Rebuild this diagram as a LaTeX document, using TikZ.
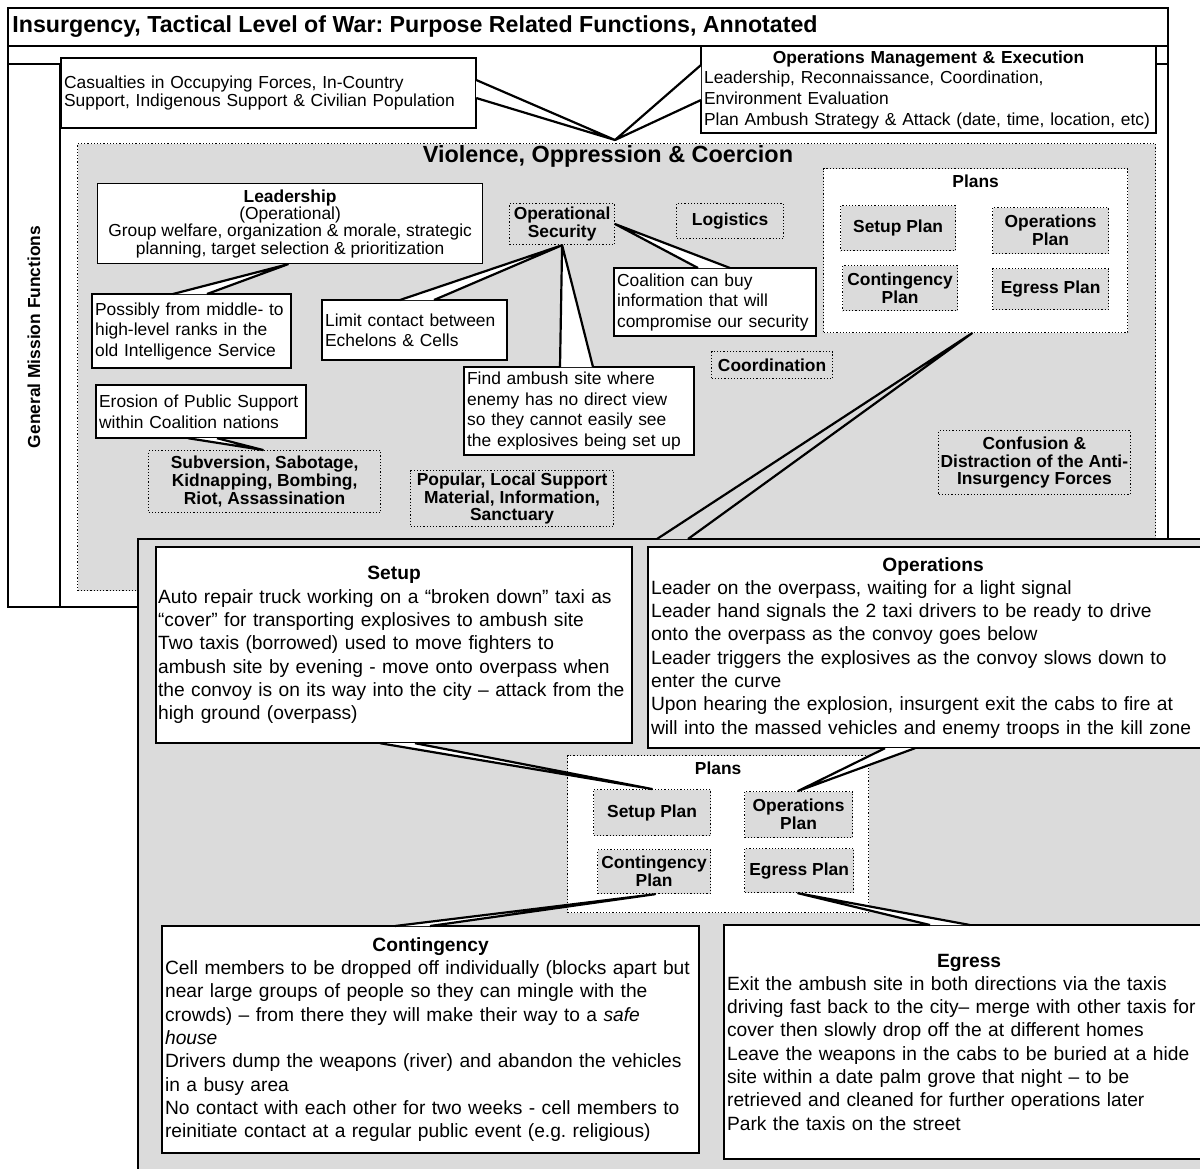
\documentclass[tikz,border=0pt]{standalone}
\usepackage{fontspec}
\setmainfont{Liberation Sans}
\usepackage{tikz}
\usetikzlibrary{positioning,calc}
\definecolor{stip}{gray}{0.86}
\setlength{\parindent}{0pt}
\frenchspacing
\newcommand{\notefont}{\fontsize{8.7}{10.3}\selectfont}
\newcommand{\funcfont}{\bfseries\fontsize{8.7}{8.9}\selectfont}
\newcommand{\detailfont}{\fontsize{9.6}{11.65}\selectfont}

\begin{document}
\begin{tikzpicture}[
  x=0.5pt,y=-0.5pt,
  frame/.style={draw,line width=0.8pt},
  note/.style={draw,fill=white,line width=1.1pt,anchor=north west,align=left,
               inner xsep=1.5pt,inner ysep=1pt,font=\notefont},
  detail/.style={note,font=\detailfont},
  func/.style={draw,densely dotted,fill=stip,line width=0.6pt,anchor=north west,
               align=center,inner sep=1pt,font=\funcfont},
  planbox/.style={draw,densely dotted,fill=white,line width=0.6pt,anchor=north west},
  ptr/.style={draw,fill=white,line width=1.1pt,line join=round}
]
\useasboundingbox (0,0) rectangle (1200,1168);

\draw[frame] (8,8) rectangle (1168,607);
\draw[frame] (8,46) -- (1168,46);
\draw[frame] (8,64) -- (60,64) (1155,64) -- (1168,64);
\draw[frame] (60,64) -- (60,607);
\node[anchor=west,inner sep=0pt,font=\bfseries\fontsize{11.6}{13}\selectfont] (title) at (12,27)
  {Insurgency, Tactical Level of War: Purpose Related Functions, Annotated};
\node[rotate=90,font=\funcfont] (gmf) at (34,337) {General Mission Functions};

\node[draw,densely dotted,fill=stip,line width=0.6pt,anchor=north west,
      minimum width=539pt,minimum height=223.5pt] (vio) at (77,143) {};
\node[font=\bfseries\fontsize{11.7}{13}\selectfont] (viotitle) at (608,156)
  {Violence, Oppression \& Coercion};

\node[note,text width=204.5pt,minimum height=35pt,font=\fontsize{8.7}{9}\selectfont] (cas) at (60,57)
  {Casualties in Occupying Forces, In-Country\\Support, Indigenous Support \& Civilian Population};
\node[note,text width=224.5pt,minimum height=43.5pt] (opsm) at (700,45)
  {{\centering\textbf{Operations Management \& Execution}\par}Leadership, Reconnaissance, Coordination,\\
   Environment Evaluation\\Plan Ambush Strategy \& Attack (date, time, location, etc)};

\node[note,align=center,line width=0.6pt,minimum width=192.5pt,minimum height=40pt,
      font=\fontsize{8.7}{8.7}\selectfont] (lead) at (97,183)
  {\textbf{Leadership}\\(Operational)\\Group welfare, organization \& morale, strategic\\
   planning, target selection \& prioritization};
\node[note,text width=96.5pt,minimum height=37pt] (pos) at (91,293)
  {Possibly from middle- to\\high-level ranks in the\\old Intelligence Service};
\node[note,text width=89.5pt,minimum height=30pt] (limit) at (321,299)
  {Limit contact between\\Echelons \& Cells};
\node[note,text width=98pt,minimum height=34pt] (coal) at (613,267)
  {Coalition can buy\\information that will\\compromise our security};
\node[note,text width=112pt,minimum height=44pt] (find) at (463,366)
  {Find ambush site where\\enemy has no direct view\\so they cannot easily see\\the explosives being set up};
\node[note,text width=102pt,minimum height=26.5pt] (eros) at (95,384)
  {Erosion of Public Support\\within Coalition nations};

\node[func,minimum width=52.5pt,minimum height=20.5pt] (opsec) at (509,203) {Operational\\Security};
\node[func,minimum width=53.5pt,minimum height=17.5pt] (logi) at (676,203) {Logistics};
\node[func,minimum width=60.5pt,minimum height=13.5pt] (coord) at (711,351) {Coordination};
\node[func,minimum width=116pt,minimum height=31pt] (subv) at (148,450)
  {Subversion, Sabotage,\\Kidnapping, Bombing,\\Riot, Assassination};
\node[func,minimum width=101.5pt,minimum height=27.5pt] (popu) at (410,470)
  {Popular, Local Support\\Material, Information,\\Sanctuary};
\node[func,minimum width=93pt,minimum height=32pt] (conf) at (938,430)
  {Confusion \&\\Distraction of the Anti-\\Insurgency Forces};

\node[planbox,minimum width=152pt,minimum height=82pt] (plansA) at (823,168) {};
\node[font=\funcfont,below=0pt of plansA.north] (plansAt) {Plans};
\node[func,minimum width=57.5pt,minimum height=22.5pt] (setupA) at (840,205) {Setup Plan};
\node[func,minimum width=58pt,minimum height=23pt] (opsA) at (992,207) {Operations\\Plan};
\node[func,minimum width=57.5pt,minimum height=22.5pt] (contA) at (842,265) {Contingency\\Plan};
\node[func,minimum width=58pt,minimum height=20.5pt] (egrA) at (992,268) {Egress Plan};

\coordinate (hub) at (615,140);
\path[ptr] ($(cas.north east)+(-1,23)$) -- (hub) -- ($(cas.north east)+(-1,41)$);
\path[ptr] ($(opsm.north west)+(1,20)$) -- (hub) -- ($(opsm.north west)+(1,55)$);
\path[ptr] ($(pos.north west)+(82,1)$) -- ($(lead.south west)+(191,0)$) -- ($(pos.north west)+(116,1)$);
\path[ptr] ($(limit.north west)+(79,1)$) -- (opsec.south) -- ($(limit.north west)+(113,1)$);
\path[ptr] ($(find.north west)+(97,1)$) -- (opsec.south) -- ($(find.north west)+(130,1)$);
\path[ptr] ($(coal.north west)+(85,1)$) -- (opsec.east) -- ($(coal.north west)+(117,1)$);
\path[ptr] ($(eros.south west)+(93,-1)$) -- ($(subv.north west)+(115,0)$) -- ($(eros.south west)+(122,-1)$);

\node[draw,fill=stip,line width=0.8pt,anchor=north west,minimum width=545pt,minimum height=330pt] (ambush) at (137,538) {};
\node[detail,text width=236pt,inner xsep=1pt,minimum height=98pt] (setup) at (155,546)
  {{\centering\textbf{Setup}\par}Auto repair truck working on a ``broken down'' taxi as\\
   ``cover'' for transporting explosives to ambush site\\
   Two taxis (borrowed) used to move fighters to\\
   ambush site by evening - move onto overpass when\\
   the convoy is on its way into the city -- attack from the\\
   high ground (overpass)};
\node[detail,text width=282pt,minimum height=100.5pt] (ops) at (647,546)
  {{\centering\textbf{Operations}\par}Leader on the overpass, waiting for a light signal\\
   Leader hand signals the 2 taxi drivers to be ready to drive\\
   onto the overpass as the convoy goes below\\
   Leader triggers the explosives as the convoy slows down to\\
   enter the curve\\
   Upon hearing the explosion, insurgent exit the cabs to fire at\\
   will into the massed vehicles and enemy troops in the kill zone};
\node[detail,text width=265.5pt,minimum height=113.5pt] (cont) at (161,925)
  {{\centering\textbf{Contingency}\par}Cell members to be dropped off individually (blocks apart but\\
   near large groups of people so they can mingle with the\\
   crowds) -- from there they will make their way to a \textit{safe}\\
   \textit{house}\\
   Drivers dump the weapons (river) and abandon the vehicles\\
   in a busy area\\
   No contact with each other for two weeks - cell members to\\
   reinitiate contact at a regular public event (e.g. religious)};
\node[detail,text width=242pt,minimum height=117pt] (egr) at (723,924)
  {{\centering\textbf{Egress}\par}Exit the ambush site in both directions via the taxis\\
   driving fast back to the city-- merge with other taxis for\\
   cover then slowly drop off the at different homes\\
   Leave the weapons in the cabs to be buried at a hide\\
   site within a date palm grove that night -- to be\\
   retrieved and cleaned for further operations later\\
   Park the taxis on the street};

\node[planbox,minimum width=150.5pt,minimum height=78.5pt] (plansB) at (567,755) {};
\node[font=\funcfont,below=0pt of plansB.north] (plansBt) {Plans};
\node[func,minimum width=58.5pt,minimum height=23pt] (setupB) at (593,789) {Setup Plan};
\node[func,minimum width=54pt,minimum height=23pt] (opsB) at (744,791) {Operations\\Plan};
\node[func,minimum width=56.5pt,minimum height=22pt] (contB) at (597,849) {Contingency\\Plan};
\node[func,minimum width=54.5pt,minimum height=22pt] (egrB) at (744,848) {Egress Plan};

\path[ptr] ($(setup.south west)+(225,-1)$) -- ($(setupB.north west)+(59,0)$) -- ($(setup.south west)+(260,-1)$);
\path[ptr] ($(ops.south west)+(238,-1)$) -- ($(opsB.north west)+(54,0)$) -- ($(ops.south west)+(268,-1)$);
\path[ptr] ($(cont.north west)+(234,1)$) -- ($(contB.south west)+(58,0)$) -- ($(cont.north west)+(269,1)$);
\path[ptr] ($(egr.north west)+(207,1)$) -- ($(egrB.south west)+(54,0)$) -- ($(egr.north west)+(247,1)$);
\path[ptr,fill=stip] ($(ambush.north west)+(520,1)$) -- ($(plansA.south west)+(149,0)$) -- ($(ambush.north west)+(551,1)$);
\end{tikzpicture}
\end{document}
